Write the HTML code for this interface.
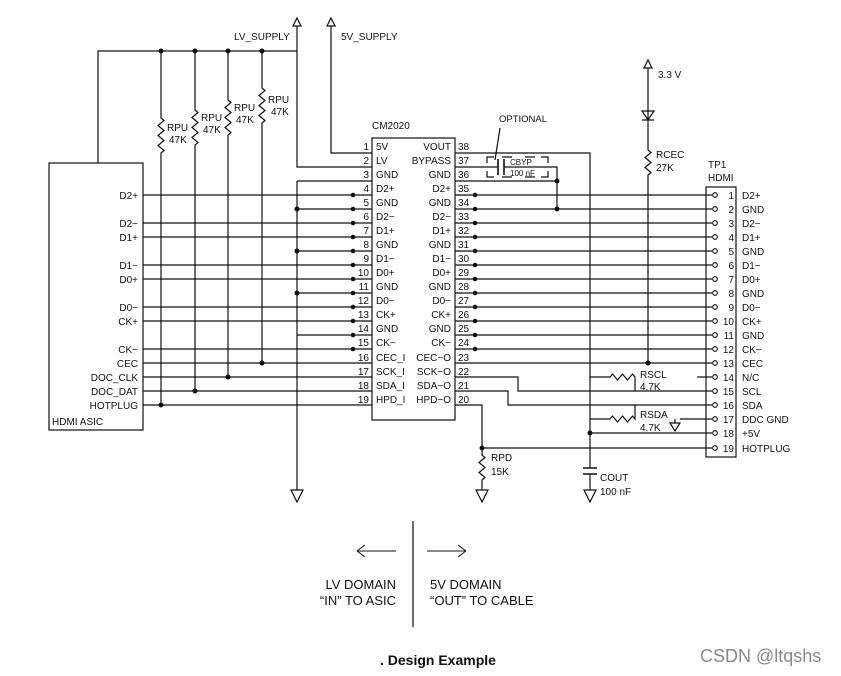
<!DOCTYPE html>
<html><head><meta charset="utf-8"><style>
html,body{margin:0;padding:0;background:#fff;}
svg{display:block;font-family:"Liberation Sans",Arial,sans-serif;}
text{font-size:10px;fill:#111;}
.r{text-anchor:end;}
</style></head><body>
<svg width="841" height="676" viewBox="0 0 841 676" xmlns="http://www.w3.org/2000/svg">
<g stroke="#111" stroke-width="1.2" fill="none">
<rect x="49" y="163" width="94" height="267"/>
<path d="M98 163V51H297"/>
<path d="M161 51V118l3 2.5l-6 5l6 5l-6 5l6 5l-6 5l6 5l-3 2.5V405"/>
<path d="M195 51V110l3 2.5l-6 5l6 5l-6 5l6 5l-6 5l6 5l-3 2.5V391"/>
<path d="M228 51V100l3 2.5l-6 5l6 5l-6 5l6 5l-6 5l6 5l-3 2.5V377"/>
<path d="M262 51V88l3 2.5l-6 5l6 5l-6 5l6 5l-6 5l6 5l-3 2.5V363"/>
<path d="M297 20V167H372"/>
<path d="M331 20V153H372"/>
<path d="M297 181H372M297 181V490"/>
<path d="M143 195H372M297 209H372M143 223H372M143 237H372M297 251H372M143 265H372M143 279H372M297 293H372M143 307H372M143 321H372M297 335H372M143 349H372M143 363H372M143 377H372M143 391H372M143 405H372"/>
<rect x="372" y="138" width="83" height="282"/>
<path d="M455 153H590V468"/>
<path d="M590 474V490"/>
<path d="M583 468H597M583 474H597" stroke-width="1.6"/>
<path d="M455 167H498M504 167H557V209"/>
<path d="M498 159V175M504 159V175" stroke-width="1.6"/>
<path d="M487 163V157H494M487 171V177H494M548 163V157H541M548 171V177H541M502 157H512M525 157H535M502 177H512M525 177H535"/>
<path d="M500 128L495 160"/>
<path d="M455 181H557"/>
<path d="M455 195H712M455 209H712M455 223H712M455 237H712M455 251H712M455 265H712M455 279H712M455 293H712M455 307H712M455 321H712M455 335H712M455 349H712M455 363H712"/>
<path d="M455 377H518V391H712"/>
<path d="M455 391H508V405H712"/>
<path d="M455 405H482V448H712"/>
<path d="M482 448V455l3 2.5l-6 5l6 5l-6 5l6 5l-3 2.5V490"/>
<path d="M648 62V150l3 2.5l-6 5l6 5l-6 5l6 5l-3 2.5V363"/>
<path d="M642 111H654L648 120Z M642 120H654"/>
<path d="M590 377H610l2.5 -3l5 6l5 -6l5 6l5 -6l2.5 3V391"/>
<path d="M590 419H610l2.5 -3l5 6l5 -6l5 6l5 -6l2.5 3V405"/>
<path d="M590 433H712"/>
<path d="M697 377H712M680 419H712M675 419V423"/>
<path d="M670 423H680L675 431Z"/>
<path d="M291 490H303L297 502Z M476 490H488L482 502Z M584 490H596L590 502Z"/>
<path d="M293 26L297 18L301 26Z M327 26L331 18L335 26Z M644 68L648 60L652 68Z" fill="#fff"/>
<rect x="706" y="187" width="30" height="270"/>
<path d="M413 521V627"/>
<path d="M357 551H396M357 551l8-6M357 551l8 6" stroke-width="1"/>
<path d="M427 551H466M466 551l-8-6M466 551l-8 6" stroke-width="1"/>
</g>
<g fill="#fff" stroke="#111" stroke-width="1.1">
<circle cx="715" cy="195" r="2.3"/><circle cx="715" cy="209" r="2.3"/><circle cx="715" cy="223" r="2.3"/><circle cx="715" cy="237" r="2.3"/><circle cx="715" cy="251" r="2.3"/><circle cx="715" cy="265" r="2.3"/><circle cx="715" cy="279" r="2.3"/><circle cx="715" cy="293" r="2.3"/><circle cx="715" cy="307" r="2.3"/><circle cx="715" cy="321" r="2.3"/><circle cx="715" cy="335" r="2.3"/><circle cx="715" cy="349" r="2.3"/><circle cx="715" cy="363" r="2.3"/><circle cx="715" cy="377" r="2.3"/><circle cx="715" cy="391" r="2.3"/><circle cx="715" cy="405" r="2.3"/><circle cx="715" cy="419" r="2.3"/><circle cx="715" cy="433" r="2.3"/><circle cx="715" cy="448" r="2.3"/>
</g>
<g fill="#111">
<circle cx="161" cy="51" r="2.5"/><circle cx="195" cy="51" r="2.5"/><circle cx="228" cy="51" r="2.5"/><circle cx="262" cy="51" r="2.5"/>
<circle cx="161" cy="405" r="2.5"/><circle cx="195" cy="391" r="2.5"/><circle cx="228" cy="377" r="2.5"/><circle cx="262" cy="363" r="2.5"/>
<circle cx="297" cy="209" r="2.5"/><circle cx="297" cy="251" r="2.5"/><circle cx="297" cy="293" r="2.5"/>
<circle cx="353" cy="195" r="2.3"/><circle cx="353" cy="209" r="2.3"/><circle cx="353" cy="223" r="2.3"/><circle cx="353" cy="237" r="2.3"/><circle cx="353" cy="251" r="2.3"/><circle cx="353" cy="265" r="2.3"/><circle cx="353" cy="279" r="2.3"/><circle cx="353" cy="293" r="2.3"/><circle cx="353" cy="307" r="2.3"/><circle cx="353" cy="321" r="2.3"/><circle cx="353" cy="335" r="2.3"/><circle cx="353" cy="349" r="2.3"/>
<circle cx="475" cy="195" r="2.3"/><circle cx="475" cy="209" r="2.3"/><circle cx="475" cy="223" r="2.3"/><circle cx="475" cy="237" r="2.3"/><circle cx="475" cy="251" r="2.3"/><circle cx="475" cy="265" r="2.3"/><circle cx="475" cy="279" r="2.3"/><circle cx="475" cy="293" r="2.3"/><circle cx="475" cy="307" r="2.3"/><circle cx="475" cy="321" r="2.3"/><circle cx="475" cy="335" r="2.3"/><circle cx="475" cy="349" r="2.3"/>
<circle cx="557" cy="181" r="2.5"/><circle cx="557" cy="209" r="2.5"/>
<circle cx="648" cy="363" r="2.5"/><circle cx="590" cy="433" r="2.5"/><circle cx="482" cy="448" r="2.5"/>
</g>
<text x="234" y="40">LV_SUPPLY</text>
<text x="341" y="40">5V_SUPPLY</text>
<text x="167" y="131">RPU</text><text x="169" y="143">47K</text>
<text x="201" y="121">RPU</text><text x="203" y="133">47K</text>
<text x="234" y="111">RPU</text><text x="236" y="123">47K</text>
<text x="268" y="103">RPU</text><text x="271" y="115">47K</text>
<g>
<text x="138" y="199" class="r">D2+</text><text x="138" y="227" class="r">D2−</text><text x="138" y="241" class="r">D1+</text>
<text x="138" y="269" class="r">D1−</text><text x="138" y="283" class="r">D0+</text><text x="138" y="311" class="r">D0−</text>
<text x="138" y="325" class="r">CK+</text><text x="138" y="353" class="r">CK−</text><text x="138" y="367" class="r">CEC</text>
<text x="138" y="381" class="r">DOC_CLK</text><text x="138" y="395" class="r">DOC_DAT</text><text x="138" y="409" class="r">HOTPLUG</text>
</g>
<text x="52" y="425">HDMI ASIC</text>
<text x="372" y="129">CM2020</text>
<g>
<text x="369" y="150" class="r">1</text><text x="376" y="150">5V</text>
<text x="369" y="164" class="r">2</text><text x="376" y="164">LV</text>
<text x="369" y="178" class="r">3</text><text x="376" y="178">GND</text>
<text x="369" y="192" class="r">4</text><text x="376" y="192">D2+</text>
<text x="369" y="206" class="r">5</text><text x="376" y="206">GND</text>
<text x="369" y="220" class="r">6</text><text x="376" y="220">D2−</text>
<text x="369" y="234" class="r">7</text><text x="376" y="234">D1+</text>
<text x="369" y="248" class="r">8</text><text x="376" y="248">GND</text>
<text x="369" y="262" class="r">9</text><text x="376" y="262">D1−</text>
<text x="369" y="276" class="r">10</text><text x="376" y="276">D0+</text>
<text x="369" y="290" class="r">11</text><text x="376" y="290">GND</text>
<text x="369" y="304" class="r">12</text><text x="376" y="304">D0−</text>
<text x="369" y="318" class="r">13</text><text x="376" y="318">CK+</text>
<text x="369" y="332" class="r">14</text><text x="376" y="332">GND</text>
<text x="369" y="346" class="r">15</text><text x="376" y="346">CK−</text>
<text x="369" y="361" class="r">16</text><text x="376" y="361">CEC_I</text>
<text x="369" y="375" class="r">17</text><text x="376" y="375">SCK_I</text>
<text x="369" y="389" class="r">18</text><text x="376" y="389">SDA_I</text>
<text x="369" y="403" class="r">19</text><text x="376" y="403">HPD_I</text>
</g>
<g>
<text x="451" y="150" class="r">VOUT</text><text x="458" y="150">38</text>
<text x="451" y="164" class="r">BYPASS</text><text x="458" y="164">37</text>
<text x="451" y="178" class="r">GND</text><text x="458" y="178">36</text>
<text x="451" y="192" class="r">D2+</text><text x="458" y="192">35</text>
<text x="451" y="206" class="r">GND</text><text x="458" y="206">34</text>
<text x="451" y="220" class="r">D2−</text><text x="458" y="220">33</text>
<text x="451" y="234" class="r">D1+</text><text x="458" y="234">32</text>
<text x="451" y="248" class="r">GND</text><text x="458" y="248">31</text>
<text x="451" y="262" class="r">D1−</text><text x="458" y="262">30</text>
<text x="451" y="276" class="r">D0+</text><text x="458" y="276">29</text>
<text x="451" y="290" class="r">GND</text><text x="458" y="290">28</text>
<text x="451" y="304" class="r">D0−</text><text x="458" y="304">27</text>
<text x="451" y="318" class="r">CK+</text><text x="458" y="318">26</text>
<text x="451" y="332" class="r">GND</text><text x="458" y="332">25</text>
<text x="451" y="346" class="r">CK−</text><text x="458" y="346">24</text>
<text x="451" y="361" class="r">CEC−O</text><text x="458" y="361">23</text>
<text x="451" y="375" class="r">SCK−O</text><text x="458" y="375">22</text>
<text x="451" y="389" class="r">SDA−O</text><text x="458" y="389">21</text>
<text x="451" y="403" class="r">HPD−O</text><text x="458" y="403">20</text>
</g>
<text x="499" y="122" style="font-size:9.5px">OPTIONAL</text>
<text x="510" y="165" style="font-size:8px">CBYP</text>
<text x="510" y="176" style="font-size:8px">100 nF</text>
<text x="658" y="78">3.3 V</text>
<text x="656" y="158">RCEC</text><text x="656" y="171">27K</text>
<text x="708" y="168">TP1</text><text x="708" y="181">HDMI</text>
<text x="640" y="378">RSCL</text><text x="640" y="390">4.7K</text>
<text x="640" y="418">RSDA</text><text x="640" y="431">4.7K</text>
<text x="491" y="461">RPD</text><text x="491" y="475">15K</text>
<text x="600" y="481">COUT</text><text x="600" y="495">100 nF</text>
<g>
<text x="734" y="199" class="r">1</text><text x="742" y="199">D2+</text>
<text x="734" y="213" class="r">2</text><text x="742" y="213">GND</text>
<text x="734" y="227" class="r">3</text><text x="742" y="227">D2−</text>
<text x="734" y="241" class="r">4</text><text x="742" y="241">D1+</text>
<text x="734" y="255" class="r">5</text><text x="742" y="255">GND</text>
<text x="734" y="269" class="r">6</text><text x="742" y="269">D1−</text>
<text x="734" y="283" class="r">7</text><text x="742" y="283">D0+</text>
<text x="734" y="297" class="r">8</text><text x="742" y="297">GND</text>
<text x="734" y="311" class="r">9</text><text x="742" y="311">D0−</text>
<text x="734" y="325" class="r">10</text><text x="742" y="325">CK+</text>
<text x="734" y="339" class="r">11</text><text x="742" y="339">GND</text>
<text x="734" y="353" class="r">12</text><text x="742" y="353">CK−</text>
<text x="734" y="367" class="r">13</text><text x="742" y="367">CEC</text>
<text x="734" y="381" class="r">14</text><text x="742" y="381">N/C</text>
<text x="734" y="395" class="r">15</text><text x="742" y="395">SCL</text>
<text x="734" y="409" class="r">16</text><text x="742" y="409">SDA</text>
<text x="734" y="423" class="r">17</text><text x="742" y="423">DDC GND</text>
<text x="734" y="437" class="r">18</text><text x="742" y="437">+5V</text>
<text x="734" y="452" class="r">19</text><text x="742" y="452">HOTPLUG</text>
</g>
<text x="396" y="589" class="r" style="font-size:13px">LV DOMAIN</text>
<text x="396" y="605" class="r" style="font-size:13px">“IN” TO ASIC</text>
<text x="430" y="589" style="font-size:13px">5V DOMAIN</text>
<text x="430" y="605" style="font-size:13px">“OUT” TO CABLE</text>
<text x="380" y="665" style="font-size:14px;font-weight:bold">. Design Example</text>
<text x="700" y="662" style="font-size:18px;fill:#888">CSDN @ltqshs</text>
</svg>
</body></html>
